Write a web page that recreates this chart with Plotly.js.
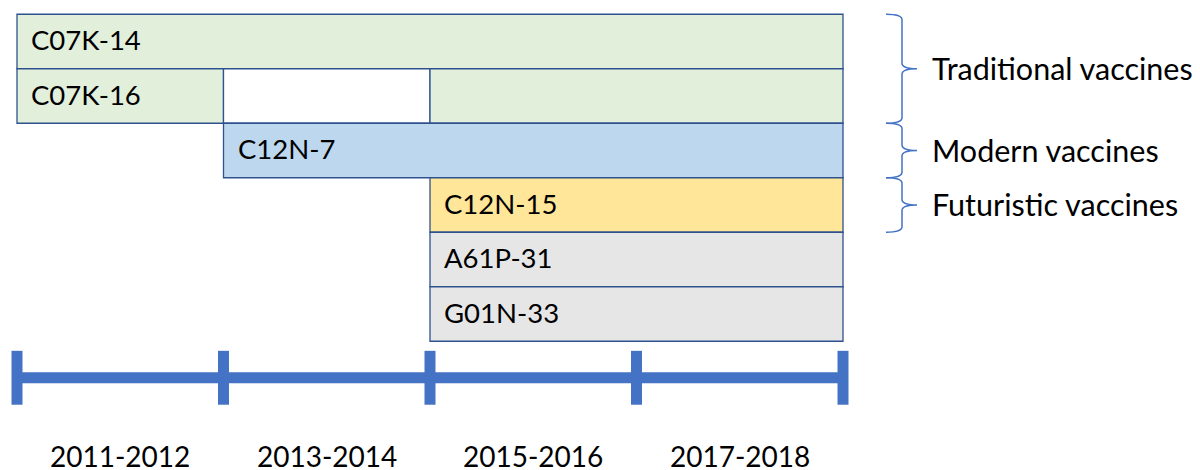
<!DOCTYPE html>
<html>
<head>
<meta charset="utf-8">
<script src="https://cdn.plot.ly/plotly-3.0.1.min.js"></script>
<style>html,body{margin:0;padding:0;background:#fff;}#chart{width:1200px;height:470px;}</style>
</head>
<body>
<div id="chart"></div>
<script>
// ---- data ----
var segLabels = ["C07K-14", "C07K-16", "", "", "C12N-7", "C12N-15", "A61P-31", "G01N-33"];
var segRows   = [0, 1, 1, 1, 2, 3, 4, 5];
var segStart  = [2011, 2011, 2013, 2015, 2013, 2015, 2015, 2015];
var segEnd    = [2019, 2013, 2015, 2019, 2019, 2019, 2019, 2019];
var segKind   = ["traditional", "traditional", "blank", "traditional", "modern", "futuristic", "other", "other"];

var periodLabels = ["2011-2012", "2013-2014", "2015-2016", "2017-2018"];
var periodStart  = [2011, 2013, 2015, 2017];
var periodEnd    = [2013, 2015, 2017, 2019];

var groupNames    = ["Traditional vaccines", "Modern vaccines", "Futuristic vaccines"];
var groupFirstRow = [0, 2, 3];
var groupLastRow  = [1, 2, 3];

// ---- styles ----
var kindColor = {traditional: "#E2EFDA", blank: "#FFFFFF", modern: "#BDD7EE", futuristic: "#FFE699", other: "#E7E6E6"};
var edge = "#2F528F";
var accent = "#4472C4";
var FONT = "Lato, 'Open Sans', sans-serif";

var timelineRow = 6.17;
var tickYears = periodStart.concat([periodEnd[periodEnd.length - 1]]);

var traces = [];
traces.push({
  type: "bar", orientation: "h",
  y: segRows,
  base: segStart,
  x: segEnd.map(function (e, i) { return e - segStart[i]; }),
  width: segRows.map(function () { return 1; }),
  marker: {color: segKind.map(function (k) { return kindColor[k]; }), line: {color: edge, width: 1.3}},
  hoverinfo: "skip", showlegend: false
});
traces.push({
  type: "scatter", mode: "lines+markers",
  x: tickYears,
  y: tickYears.map(function () { return timelineRow; }),
  line: {color: accent, width: 11},
  marker: {symbol: "line-ns", size: 38.5, color: accent, line: {color: accent, width: 11}},
  hoverinfo: "skip", showlegend: false
});

var annotations = [];
segLabels.forEach(function (t, i) {
  if (!t) return;
  annotations.push({
    x: segStart[i], y: segRows[i], xref: "x", yref: "y",
    xanchor: "left", yanchor: "middle", xshift: 12, yshift: 2,
    text: t, showarrow: false, font: {family: FONT, size: 27.5, color: "#000"}
  });
});
periodLabels.forEach(function (t, i) {
  annotations.push({
    x: (periodStart[i] + periodEnd[i]) / 2, y: 1 - 456 / 470, xref: "x", yref: "paper",
    xanchor: "center", yanchor: "middle",
    text: t, showarrow: false, font: {family: FONT, size: 28, color: "#000"}
  });
});

var shapes = [];
var xHook = 886 / 1200, xSpine = 902 / 1200, xTip = 917 / 1200;
groupNames.forEach(function (g, i) {
  var top = groupFirstRow[i] - 0.5, bot = groupLastRow[i] + 0.5, mid = (top + bot) / 2;
  var r = 0.1;
  var p = "M" + xHook + "," + top +
    " Q" + xSpine + "," + top + " " + xSpine + "," + (top + r) +
    " L" + xSpine + "," + (mid - r) +
    " Q" + xSpine + "," + mid + " " + xTip + "," + mid +
    " Q" + xSpine + "," + mid + " " + xSpine + "," + (mid + r) +
    " L" + xSpine + "," + (bot - r) +
    " Q" + xSpine + "," + bot + " " + xHook + "," + bot;
  shapes.push({type: "path", xref: "paper", yref: "y", path: p, line: {color: accent, width: 1.5}});
  annotations.push({
    x: 930 / 1200, y: mid, xref: "paper", yref: "y",
    xanchor: "left", yanchor: "middle", yshift: 1,
    text: g, showarrow: false, font: {family: FONT, size: 30.5, color: "#000"}
  });
});

var layout = {
  width: 1200, height: 470,
  margin: {l: 0, r: 0, t: 0, b: 0, pad: 0},
  paper_bgcolor: "#fff", plot_bgcolor: "#fff",
  xaxis: {range: [2011 - 17 / 103.25, 2011 + 1183 / 103.25], visible: false, fixedrange: true},
  yaxis: {range: [(470 - 41.5) / 54.5, -41.5 / 54.5], visible: false, fixedrange: true},
  showlegend: false, hovermode: false, bargap: 0,
  annotations: annotations, shapes: shapes
};
Plotly.newPlot("chart", traces, layout, {staticPlot: true, displayModeBar: false});
</script>
</body>
</html>
